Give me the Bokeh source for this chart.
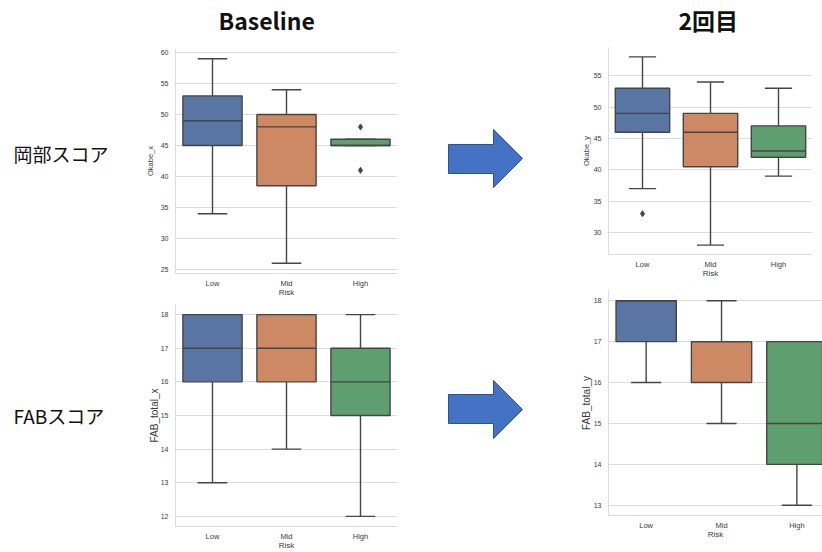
from bokeh.plotting import figure
from bokeh.layouts import row, column
from bokeh.models import Range1d, FixedTicker, ColumnDataSource
from bokeh.embed import file_html
from bokeh.resources import INLINE
from bokeh.core.properties import value

# ---------------- data ----------------
risk = ["Low", "Mid", "High"]

# Okabe score, baseline
okabe_x_lo = [34, 26, 45]
okabe_x_q1 = [45, 38.5, 45]
okabe_x_med = [49, 48, 45]
okabe_x_q3 = [53, 50, 46]
okabe_x_hi = [59, 54, 46]
okabe_x_out_risk = ["High", "High"]
okabe_x_out = [48, 41]
okabe_x_ticks = [25, 30, 35, 40, 45, 50, 55, 60]

# Okabe score, 2nd
okabe_y_lo = [37, 28, 39]
okabe_y_q1 = [46, 40.5, 42]
okabe_y_med = [49, 46, 43]
okabe_y_q3 = [53, 49, 47]
okabe_y_hi = [58, 54, 53]
okabe_y_out_risk = ["Low"]
okabe_y_out = [33]
okabe_y_ticks = [30, 35, 40, 45, 50, 55]

# FAB total, baseline
fab_x_lo = [13, 14, 12]
fab_x_q1 = [16, 16, 15]
fab_x_med = [17, 17, 16]
fab_x_q3 = [18, 18, 17]
fab_x_hi = [18, 18, 18]
fab_x_ticks = [12, 13, 14, 15, 16, 17, 18]

# FAB total, 2nd
fab_y_lo = [16, 15, 13]
fab_y_q1 = [17, 16, 14]
fab_y_med = [18, 17, 15]
fab_y_q3 = [18, 17, 17]
fab_y_hi = [18, 18, 17]
fab_y_ticks = [13, 14, 15, 16, 17, 18]

col_titles = ["Baseline", "2回目"]
row_titles = ["岡部スコア", "FABスコア"]

# ---------------- style ----------------
box_colors = ["#5875A4", "#CC8963", "#5F9E6E"]
LINE = "#454545"
GRID = "#dcdcdc"
TXT = "#3a3a3a"
TICK_FONT = "Liberation Sans"


def blank(w, h, xr, yr):
    p = figure(width=w, height=h, x_range=Range1d(*xr), y_range=Range1d(*yr),
               x_axis_type=None, y_axis_type=None, output_backend="svg",
               toolbar_location=None, min_border=0)
    p.outline_line_color = None
    p.grid.visible = False
    return p


def panel(lo, q1, med, q3, hi, out_risk, out_vals, ylabel, ylabel_size, yticks,
          yr, xend, fw, fh, bl, br, bt, bb, ylab_standoff):
    p = figure(frame_width=fw, frame_height=fh,
               x_range=Range1d(-0.5, xend), y_range=Range1d(*yr),
               output_backend="svg", toolbar_location=None,
               min_border_left=bl, min_border_right=br,
               min_border_top=bt, min_border_bottom=bb)
    p.outline_line_color = None
    xs = list(range(len(risk)))
    src = ColumnDataSource(dict(
        x=xs, lo=lo, q1=q1, med=med, q3=q3, hi=hi, color=box_colors,
        cl=[x - 0.2 for x in xs], cr=[x + 0.2 for x in xs],
        ml=[x - 0.4 for x in xs], mr=[x + 0.4 for x in xs]))
    p.segment(x0="x", y0="q3", x1="x", y1="hi", source=src, line_color=LINE, line_width=1.4)
    p.segment(x0="x", y0="q1", x1="x", y1="lo", source=src, line_color=LINE, line_width=1.4)
    p.segment(x0="cl", y0="hi", x1="cr", y1="hi", source=src, line_color=LINE, line_width=1.4)
    p.segment(x0="cl", y0="lo", x1="cr", y1="lo", source=src, line_color=LINE, line_width=1.4)
    p.vbar(x="x", width=0.8, top="q3", bottom="q1", source=src,
           fill_color="color", line_color=LINE, line_width=1.4)
    p.segment(x0="ml", y0="med", x1="mr", y1="med", source=src, line_color=LINE, line_width=1.4)
    if out_vals:
        p.scatter([risk.index(r) for r in out_risk], out_vals, marker="diamond",
                  size=6, fill_color=LINE, line_color=LINE)

    p.xgrid.visible = False
    p.ygrid.grid_line_color = GRID
    p.ygrid.grid_line_width = 1

    p.xaxis.ticker = FixedTicker(ticks=xs)
    p.xaxis.major_label_overrides = {i: r for i, r in enumerate(risk)}
    p.yaxis.ticker = FixedTicker(ticks=yticks)
    for ax in (p.xaxis[0], p.yaxis[0]):
        ax.axis_line_color = GRID
        ax.major_tick_line_color = None
        ax.minor_tick_line_color = None
        ax.major_tick_out = 0
        ax.major_tick_in = 0
        ax.minor_tick_out = 0
        ax.minor_tick_in = 0
        ax.major_label_text_font = TICK_FONT
        ax.major_label_text_color = TXT
        ax.axis_label_text_font = TICK_FONT
        ax.axis_label_text_color = TXT
        ax.axis_label_text_font_style = "normal"
    p.xaxis.major_label_text_font_size = "7.5px"
    p.xaxis.major_label_standoff = 5
    p.xaxis.axis_label = "Risk"
    p.xaxis.axis_label_text_font_size = "8px"
    p.xaxis.axis_label_standoff = -3
    p.yaxis.major_label_text_font_size = "7px"
    p.yaxis.major_label_standoff = 7
    p.yaxis.axis_label = ylabel
    p.yaxis.axis_label_text_font_size = ylabel_size
    p.yaxis.axis_label_standoff = ylab_standoff
    return p


# ---------------- panels ----------------
p1 = panel(okabe_x_lo, okabe_x_q1, okabe_x_med, okabe_x_q3, okabe_x_hi,
           okabe_x_out_risk, okabe_x_out, "Okabe_x", "7.5px", okabe_x_ticks,
           (24.35, 60.65), 2.5, 222, 225, 35, 13, 8, 26, 3)
p3 = panel(fab_x_lo, fab_x_q1, fab_x_med, fab_x_q3, fab_x_hi,
           [], [], "FAB_total_x", "10px", fab_x_ticks,
           (11.7, 18.3), 2.5, 222, 222, 35, 13, 5, 26, -2)
p2 = panel(okabe_y_lo, okabe_y_q1, okabe_y_med, okabe_y_q3, okabe_y_hi,
           okabe_y_out_risk, okabe_y_out, "Okabe_y", "7.5px", okabe_y_ticks,
           (26.5, 59.5), 2.5, 204, 207, 48, 10, 7, 28, 0)
p4 = panel(fab_y_lo, fab_y_q1, fab_y_med, fab_y_q3, fab_y_hi,
           [], [], "FAB_total_y", "10px", fab_y_ticks,
           (12.75, 18.25), 2.34, 214, 225, 48, 0, 8, 37, -1)

# ---------------- titles / labels / arrows ----------------
tB = blank(270, 40, (140, 410), (40, 0))
tB.text([251], [19], text=[col_titles[0]], text_align="center", text_baseline="middle",
        text_font=value("Noto Sans CJK JP"), text_font_style="bold",
        text_font_size="23px", text_color="#111111")
tD = blank(262, 40, (560, 822), (40, 0))
tD.text([688], [19], text=[col_titles[1]], text_align="center", text_baseline="middle",
        text_font=value("Noto Sans CJK JP"), text_font_style="bold",
        text_font_size="23px", text_color="#111111")

left = blank(140, 552, (0, 140), (552, 0))
left.text([13, 13], [153, 415], text=row_titles, text_align="left", text_baseline="middle",
          text_font=value("Noto Sans CJK JP"), text_font_size="19px", text_color="#111111")

mid = blank(150, 552, (410, 560), (552, 0))
ax_ = [448, 493, 493, 522, 493, 493, 448]
ay1 = [144, 144, 129, 158, 187, 173, 173]
ay2 = [394, 394, 380, 409, 438, 423, 423]
mid.patches([ax_, ax_], [ay1, ay2], fill_color="#4472C4", line_color="#2F528F", line_width=1)

layout = row(left, column(tB, p1, p3), mid, column(tD, p2, p4))

open("out.html", "w").write(file_html(layout, INLINE))
